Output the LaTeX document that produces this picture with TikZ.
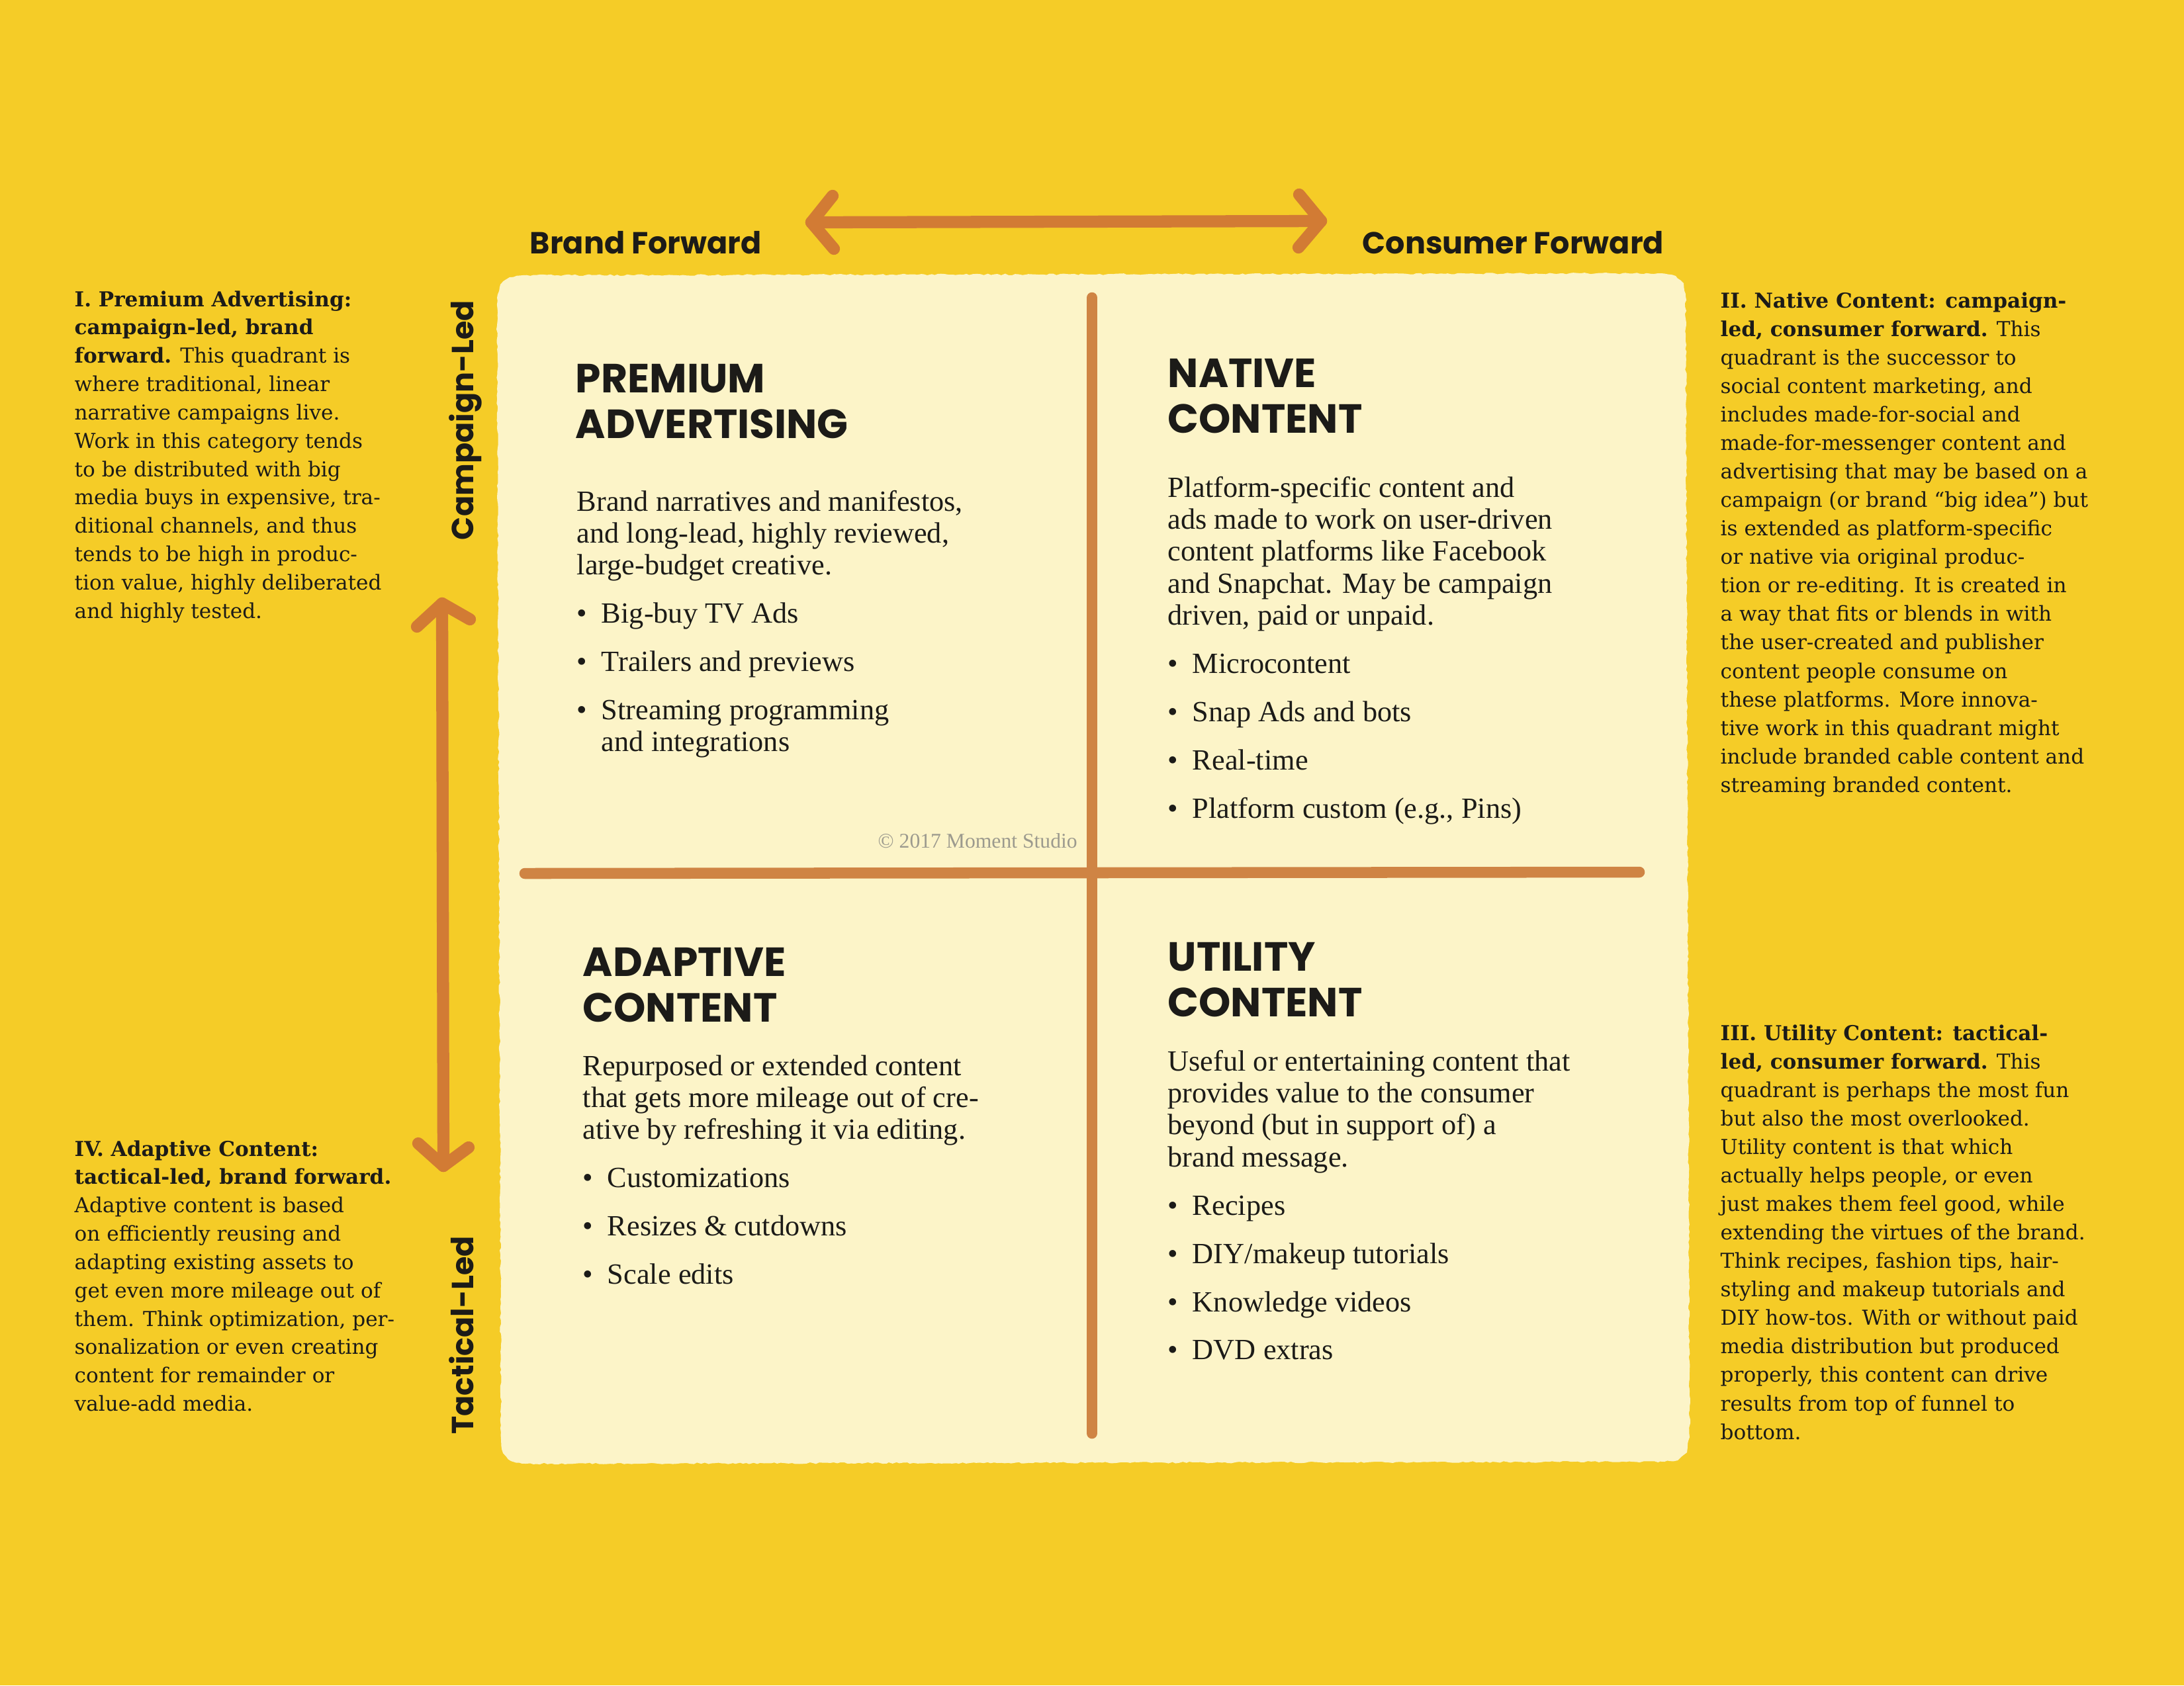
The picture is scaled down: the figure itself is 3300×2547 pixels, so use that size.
\documentclass[tikz,border=0pt]{standalone}
\usepackage{fontspec}
\setmainfont{DejaVu Serif}
\newfontfamily\quadfont{Liberation Serif}
\newfontfamily\headfont{Poppins}
\usetikzlibrary{decorations.pathmorphing}
\definecolor{bgyellow}{HTML}{F5CC27}
\definecolor{paper}{HTML}{FCF4C8}
\definecolor{rust}{HTML}{D27B34}
\definecolor{rustline}{HTML}{CF8444}
\definecolor{ink}{HTML}{1C1B18}
\definecolor{copygray}{HTML}{9C9A8E}
\newcommand{\sidefont}{\fontsize{8.85}{12.18}\selectfont}
\newcommand{\rsidefont}{\fontsize{8.85}{12.25}\selectfont}
\newcommand{\qfont}{\quadfont\fontsize{12.6}{13.75}\selectfont}
\newcommand{\hfont}{\headfont\bfseries\fontsize{17.5}{19.8}\selectfont}
\newcommand{\axfont}{\headfont\bfseries\fontsize{13.1}{15}\selectfont}
\newcommand{\blk}[1]{\parbox[t]{300pt}{\raggedright #1}}
\newcommand{\bul}{\makebox[10.6pt][l]{\textbullet}}
\newcommand{\bulsep}{\\[7pt]}
\tikzset{
  txt/.style={inner sep=0pt, anchor=base west, text=ink},
  sidetext/.style={txt, font=\sidefont},
  rsidetext/.style={txt, font=\rsidefont},
  qtext/.style={txt, font=\qfont},
  qhead/.style={txt, font=\hfont},
  axislabel/.style={txt, font=\axfont},
  vlabel/.style={inner sep=0pt, anchor=base, text=ink, font=\axfont, rotate=90},
  bigarrow/.style={draw=rust, line width=5.2pt, line cap=round, line join=round},
  divider/.style={draw=rustline, line width=4.7pt, line cap=round},
  roughedge/.style={decorate, decoration={random steps, segment length=1.5pt, amplitude=0.35pt}},
}
\begin{document}
\begin{tikzpicture}[x=0.01cm, y=-0.01cm]
\pgfmathsetseed{7}
\useasboundingbox (0,0) rectangle (3300,2547);
\fill[bgyellow] (0,0) rectangle (3300,2547);
% paper
\fill[paper, roughedge]
  (751,450) -- (756,430) -- (770,419) -- (790,416)
  -- (2510,413) -- (2532,417) -- (2544,428) -- (2547,448)
  -- (2553,2172) -- (2549,2195) -- (2535,2207) -- (2515,2209)
  -- (795,2212) -- (772,2208) -- (760,2196) -- (757,2175) -- cycle;

% dividers
\coordinate (vtop) at (1650,450);
\coordinate (vbot) at (1650,2166);
\coordinate (hleft) at (793,1320);
\coordinate (hright) at (2477,1318);
\draw[divider] (vtop) -- (vbot);
\draw[divider] (hleft) -- (hright);

% top arrow
\coordinate (aL) at (1226,336);
\coordinate (aR) at (1996,334);
\draw[bigarrow] (aL) -- (aR);
\draw[bigarrow] (1258,296) -- (aL) -- (1260,376);
\draw[bigarrow] (1963,294) -- (aR) -- (1962,374);

% vertical arrow
\coordinate (aT) at (668,912);
\coordinate (aB) at (670,1762);
\draw[bigarrow] (aT) -- (aB);
\draw[bigarrow] (630,947) -- (aT) -- (710,936);
\draw[bigarrow] (632,1728) -- (aB) -- (708,1734);

% axis labels
\node[axislabel] (brandfwd) at (800,383) {Brand Forward};
\node[axislabel] (consfwd) at (2058,383) {Consumer Forward};
\node[vlabel] (camp) at (715,635) {Campaign-Led};
\node[vlabel] (tact) at (715,2018) {Tactical-Led};

% quadrant I
\node[qhead] (h1) at (869,593) {\blk{PREMIUM\\ADVERTISING}};
\node[qtext] (b1) at (871,772) {\blk{Brand narratives and manifestos,\\
and long-lead, highly reviewed,\\
large-budget creative.\bulsep
\bul Big-buy TV Ads\bulsep
\bul Trailers and previews\bulsep
\bul Streaming programming\\
\hspace*{10.6pt}and integrations}};

% quadrant II
\node[qhead] (h2) at (1764,585) {\blk{NATIVE\\CONTENT}};
\node[qtext] (b2) at (1764,751) {\blk{Platform-specific content and\\
ads made to work on user-driven\\
content platforms like Facebook\\
and Snapchat. May be campaign\\
driven, paid or unpaid.\bulsep
\bul Microcontent\bulsep
\bul Snap Ads and bots\bulsep
\bul Real-time\bulsep
\bul Platform custom (e.g., Pins)}};

% quadrant IV
\node[qhead] (h4) at (880,1475) {\blk{ADAPTIVE\\CONTENT}};
\node[qtext] (b4) at (880,1625) {\blk{Repurposed or extended content\\
that gets more mileage out of cre-\\
ative by refreshing it via editing.\bulsep
\bul Customizations\bulsep
\bul Resizes \& cutdowns\bulsep
\bul Scale edits}};

% quadrant III
\node[qhead] (h3) at (1764,1467) {\blk{UTILITY\\CONTENT}};
\node[qtext] (b3) at (1764,1618) {\blk{Useful or entertaining content that\\
provides value to the consumer\\
beyond (but in support of) a\\
brand message.\bulsep
\bul Recipes\bulsep
\bul DIY/makeup tutorials\bulsep
\bul Knowledge videos\bulsep
\bul DVD extras}};

% copyright
\node[txt, text=copygray, font=\quadfont\fontsize{9}{10}\selectfont] (copy) at (1326,1281) {\textcopyright{} 2017 Moment Studio};

% side texts
\node[sidetext] (s1) at (112,463) {\blk{\textbf{I. Premium Advertising:}\\
\textbf{campaign-led, brand}\\
\textbf{forward.} This quadrant is\\
where traditional, linear\\
narrative campaigns live.\\
Work in this category tends\\
to be distributed with big\\
media buys in expensive, tra-\\
ditional channels, and thus\\
tends to be high in produc-\\
tion value, highly deliberated\\
and highly tested.}};

\node[sidetext] (s4) at (112,1747) {\blk{\textbf{IV. Adaptive Content:}\\
\textbf{tactical-led, brand forward.}\\
Adaptive content is based\\
on efficiently reusing and\\
adapting existing assets to\\
get even more mileage out of\\
them. Think optimization, per-\\
sonalization or even creating\\
content for remainder or\\
value-add media.}};

\node[rsidetext] (s2) at (2599,465) {\blk{\textbf{II. Native Content: campaign-}\\
\textbf{led, consumer forward.} This\\
quadrant is the successor to\\
social content marketing, and\\
includes made-for-social and\\
made-for-messenger content and\\
advertising that may be based on a\\
campaign (or brand “big idea”) but\\
is extended as platform-specific\\
or native via original produc-\\
tion or re-editing. It is created in\\
a way that fits or blends in with\\
the user-created and publisher\\
content people consume on\\
these platforms. More innova-\\
tive work in this quadrant might\\
include branded cable content and\\
streaming branded content.}};

\node[rsidetext] (s3) at (2599,1572) {\blk{\textbf{III. Utility Content: tactical-}\\
\textbf{led, consumer forward.} This\\
quadrant is perhaps the most fun\\
but also the most overlooked.\\
Utility content is that which\\
actually helps people, or even\\
just makes them feel good, while\\
extending the virtues of the brand.\\
Think recipes, fashion tips, hair-\\
styling and makeup tutorials and\\
DIY how-tos. With or without paid\\
media distribution but produced\\
properly, this content can drive\\
results from top of funnel to\\
bottom.}};
\end{tikzpicture}
\end{document}
